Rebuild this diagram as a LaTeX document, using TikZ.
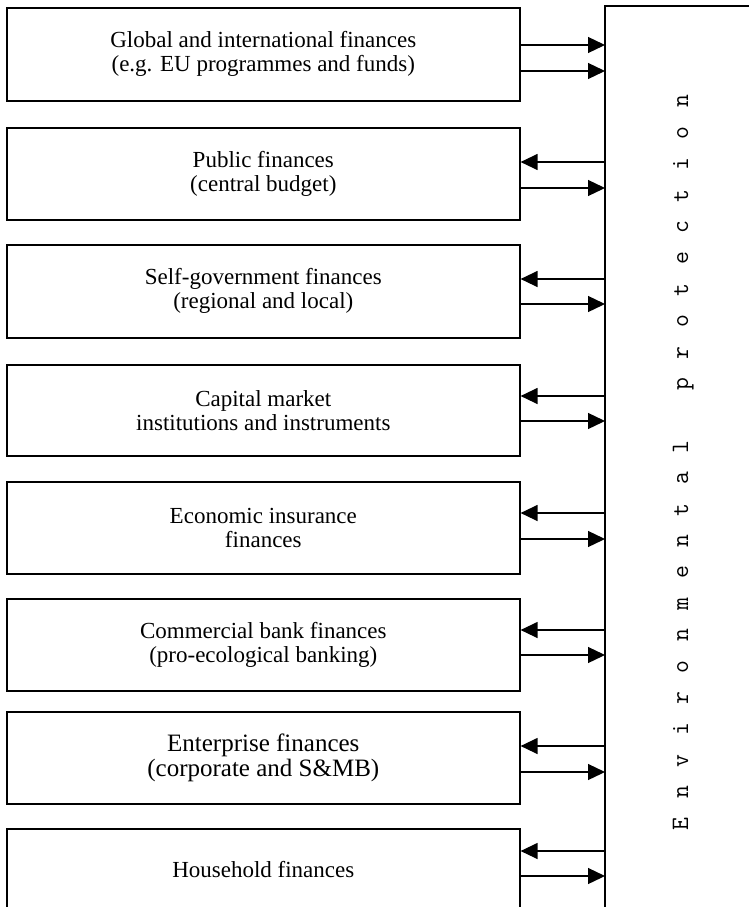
\documentclass[tikz,border=0pt]{standalone}
\usepackage{fontspec}
\setmainfont{Liberation Serif}
\usetikzlibrary{arrows.meta}
\begin{document}
\begin{tikzpicture}[x=1pt,y=-1pt,
  finbox/.style={draw, line width=1.6pt, minimum width=513pt, anchor=north west,
    inner sep=0pt, align=center, font=\fontsize{23}{24}\selectfont},
  flow/.style={line width=1.3pt, -{Triangle[length=17pt,width=16pt]}},
  panelline/.style={line width=1.8pt},
]
\useasboundingbox (0,0) rectangle (749,907);
\clip (0,0) rectangle (749,907);

% finance sources
\node[finbox, minimum height=93pt] (b1) at (6,7)
  {Global and international finances\\(e.g. EU programmes and funds)};
\node[finbox, minimum height=92pt] (b2) at (6,127)
  {Public finances\\(central budget)};
\node[finbox, minimum height=93pt] (b3) at (6,244)
  {Self-government finances\\(regional and local)};
\node[finbox, minimum height=91pt] (b4) at (6,364)
  {Capital market\\institutions and instruments};
\node[finbox, minimum height=92pt] (b5) at (6,481)
  {Economic insurance\\finances};
\node[finbox, minimum height=92pt] (b6) at (6,598)
  {Commercial bank finances\\(pro-ecological banking)};
\node[finbox, minimum height=92pt, font=\fontsize{25}{25}\selectfont] (b7) at (6,711)
  {Enterprise finances\\(corporate and S\&MB)};
\node[finbox, minimum height=100pt, text depth=18pt] (b8) at (6,828)
  {Household finances};

% environmental protection panel (open to the right and below)
\node[minimum width=160pt, minimum height=920pt, inner sep=0pt, anchor=north west] (panel) at (605,6) {};
\draw[panelline] (panel.south west) -- (panel.north west) -- (panel.north east);

\node[rotate=90, anchor=base, inner sep=0pt, font=\fontsize{25}{25}\ttfamily] (ep) at (688,462.5)
  {\foreach \ch in {E,n,v,i,r,o,n,m,e,n,t,a,l,\relax,p,r,o,t,e,c,t,i,o,n}{\makebox[31.4pt]{\ch}}};

% flows
\draw[flow] (b1.east |- 0,45) -- (panel.west |- 0,45);
\draw[flow] (b1.east |- 0,71) -- (panel.west |- 0,71);
\foreach \b/\ya/\yb in {b2/162/188, b3/279/304, b4/396/421, b5/513/539,
                       b6/630/655, b7/746/772, b8/851/876}{
  \draw[flow] (panel.west |- 0,\ya) -- (\b.east |- 0,\ya);
  \draw[flow] (\b.east |- 0,\yb) -- (panel.west |- 0,\yb);
}
\end{tikzpicture}
\end{document}
